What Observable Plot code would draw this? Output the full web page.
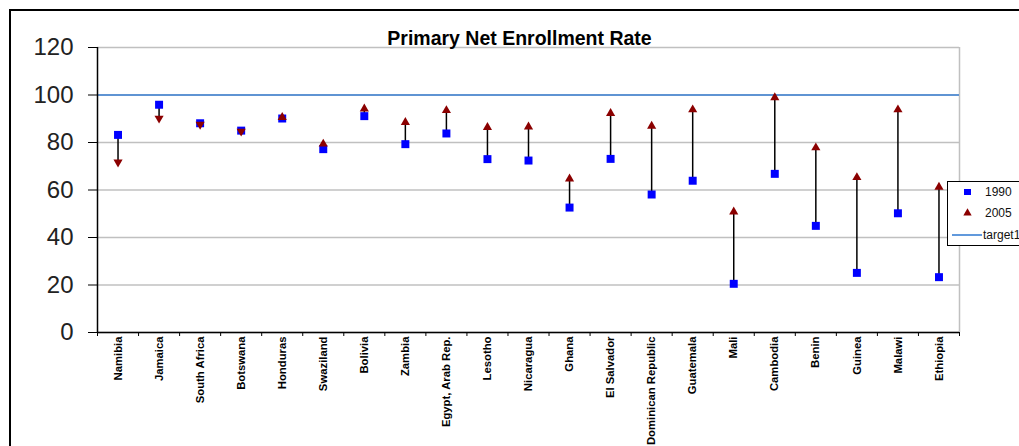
<!DOCTYPE html>
<html>
<head>
<meta charset="utf-8">
<script src="https://cdn.jsdelivr.net/npm/d3@7"></script>
<script src="https://cdn.jsdelivr.net/npm/@observablehq/plot@0.6"></script>
<style>
  html, body { margin: 0; padding: 0; background: #fff; }
  #wrap { position: relative; width: 1019px; height: 446px; overflow: hidden; font-family: "Liberation Sans", Arial, sans-serif; }
  #frame { position: absolute; left: 9px; top: 9px; width: 1100px; height: 500px; border-left: 2px solid #000; border-top: 2px solid #000; box-sizing: border-box; pointer-events: none; }
  #legend { position: absolute; left: 947px; top: 181px; width: 100px; height: 65px; border: 1.5px solid #000; background: #fff; box-sizing: border-box; }
  #chart { position: absolute; left: 0; top: 0; }
</style>
</head>
<body>
<div id="wrap">
  <div id="chart"></div>
  <div id="frame"></div>
  <div id="legend"></div>
</div>
<script>
const title = "Primary Net Enrollment Rate";
const categories = ["Namibia", "Jamaica", "South Africa", "Botswana", "Honduras", "Swaziland", "Bolivia", "Zambia", "Egypt, Arab Rep.", "Lesotho", "Nicaragua", "Ghana", "El Salvador", "Dominican Republic", "Guatemala", "Mali", "Cambodia", "Benin", "Guinea", "Malawi", "Ethiopia"];
const enroll1990 = [83.2, 95.9, 88.1, 85.0, 90.1, 77.2, 91.1, 79.3, 83.8, 73.0, 72.4, 52.6, 73.1, 58.1, 63.9, 20.5, 66.8, 44.9, 25.1, 50.2, 23.3];
const enroll2005 = [71.7, 90.2, 87.6, 84.7, 90.6, 79.4, 94.2, 88.5, 93.5, 86.4, 86.6, 64.7, 92.3, 86.9, 93.8, 50.8, 98.9, 77.8, 65.3, 93.8, 61.2];
const targetValue = [100];
const yTicks = [0, 20, 40, 60, 80, 100, 120];
const seriesNames = ["1990", "2005", "target1"];
const colors = {s1990: "#0000ff", s2005: "#8b0000", target: "#3a80d4", grid: "#c0c0c0"};

const rows = categories.map((c, i) => ({pos: i + 0.5, name: c, v1990: enroll1990[i], v2005: enroll2005[i]}));
const boundaries = d3.range(categories.length + 1);
const centers = rows.map(d => d.pos);

const downTriangle = {
  draw(context, size) {
    const y = Math.sqrt(size / (Math.sqrt(3) * 3));
    context.moveTo(0, y * 2);
    context.lineTo(-Math.sqrt(3) * y, -y);
    context.lineTo(Math.sqrt(3) * y, -y);
    context.closePath();
  }
};

const chart = Plot.plot({
  width: 1019,
  height: 446,
  marginLeft: 97,
  marginRight: 60,
  marginTop: 47,
  marginBottom: 114,
  style: {background: "transparent", fontFamily: "Liberation Sans, Arial, sans-serif", color: "#000", overflow: "visible"},
  x: {domain: [0, categories.length], axis: null},
  y: {domain: [0, 120], axis: null},
  marks: [
    Plot.gridY(yTicks, {stroke: colors.grid, strokeOpacity: 1, strokeWidth: 1.5}),
    Plot.ruleX([categories.length], {stroke: colors.grid, strokeWidth: 1.5}),
    Plot.ruleY(targetValue, {stroke: colors.target, strokeWidth: 1.6}),
    Plot.ruleX([0], {stroke: "#000", strokeWidth: 1.5}),
    Plot.ruleY([0], {stroke: "#000", strokeWidth: 1.5}),
    Plot.axisY({ticks: yTicks, tickSize: 9, tickPadding: 15, fontSize: 24, fill: "#222", label: null, tickFormat: d => String(d)}),
    Plot.axisX({ticks: boundaries, tickSize: 4, tickFormat: () => "", label: null}),
    Plot.axisX({ticks: centers, tickSize: 0, tickPadding: 4, tickRotate: -90, fontSize: 11.3, fontWeight: "bold", label: null,
      tickFormat: v => categories[Math.floor(v)]}),
    Plot.ruleX(rows, {x: "pos", y1: "v1990", y2: "v2005", stroke: "#000", strokeWidth: 1.5}),
    Plot.dot(rows, {x: "pos", y: "v1990", symbol: "square", r: 4.5, fill: colors.s1990}),
    Plot.dot(rows.filter(d => d.v2005 >= d.v1990), {x: "pos", y: "v2005", symbol: "triangle", r: 3.4, fill: colors.s2005}),
    Plot.dot(rows.filter(d => d.v2005 < d.v1990), {x: "pos", y: "v2005", symbol: downTriangle, r: 3.4, fill: colors.s2005}),
    Plot.text([title], {frameAnchor: "top", dx: -9, dy: -3, lineAnchor: "bottom", fontSize: 19.5, fontWeight: "bold", fill: "#000"})
  ]
});
document.getElementById("chart").appendChild(chart);

// Legend
const lg = d3.select("#legend").append("svg").attr("width", 100).attr("height", 62)
  .style("font-family", "Liberation Sans, Arial, sans-serif").style("font-size", "12px");
const items = [
  {name: seriesNames[0], kind: "square", color: colors.s1990, y: 10},
  {name: seriesNames[1], kind: "triangle", color: colors.s2005, y: 31},
  {name: seriesNames[2], kind: "line", color: colors.target, y: 53}
];
items.forEach(it => {
  if (it.kind === "square") lg.append("rect").attr("x", 16).attr("y", it.y - 3).attr("width", 7).attr("height", 6).attr("fill", it.color);
  if (it.kind === "triangle") lg.append("path").attr("transform", `translate(19.5,${it.y})`).attr("d", d3.symbol(d3.symbolTriangle, 30)()).attr("fill", it.color);
  if (it.kind === "line") lg.append("line").attr("x1", 4).attr("x2", 34).attr("y1", it.y).attr("y2", it.y).attr("stroke", it.color).attr("stroke-width", 1.6);
  lg.append("text").attr("x", it.kind === "line" ? 35 : 37).attr("y", it.y).attr("dy", "0.35em").attr("fill", "#111").text(it.name);
});
</script>
</body>
</html>
